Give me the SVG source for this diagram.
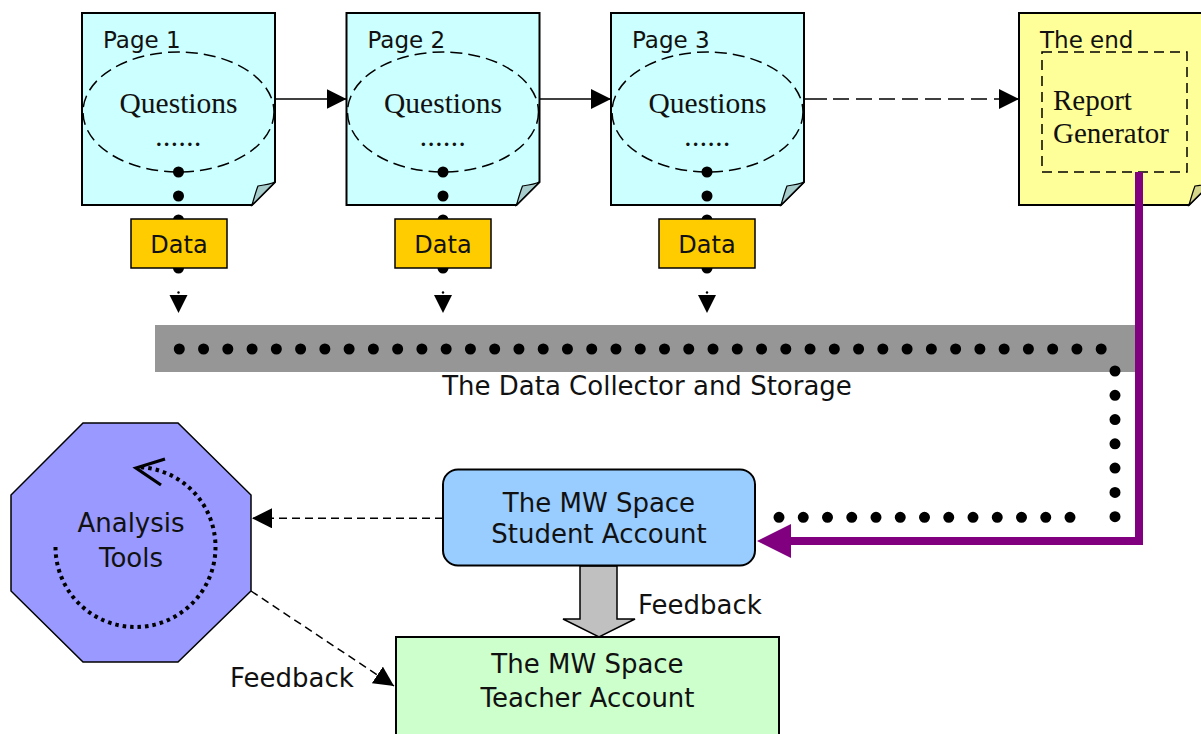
<svg xmlns="http://www.w3.org/2000/svg" width="1201" height="734" viewBox="0 0 1201 734">
<style>
.page{fill:#ccffff;stroke:#000;stroke-width:2}
.endpage{fill:#ffff99;stroke:#000;stroke-width:2}
.fold{fill:#a6cccc;stroke:#000;stroke-width:1.2}
.foldy{fill:#d6d68a;stroke:#000;stroke-width:1.2}
.ell{fill:none;stroke:#000;stroke-width:1.5;stroke-dasharray:12 6}
.dbox{fill:#ffcc00;stroke:#000;stroke-width:1.5}
.sans{font-family:"DejaVu Sans","Liberation Sans",sans-serif;fill:#111}
.serif{font-family:"Liberation Serif","DejaVu Serif",serif;fill:#111}
.lbl{font-family:"DejaVu Sans","Liberation Sans",sans-serif;font-size:26px;fill:#111}
.dots{fill:none;stroke:#000;stroke-width:11;stroke-linecap:round}
.solid{fill:none;stroke:#000;stroke-width:1.5}
.dash{fill:none;stroke:#000;stroke-width:1.5;stroke-dasharray:8 5}
</style>
<defs>
<marker id="ah" viewBox="0 0 20 20" refX="20" refY="10" markerWidth="20" markerHeight="20" markerUnits="userSpaceOnUse" orient="auto">
<path d="M0,0 L20,10 L0,20 Z" fill="#000"/>
</marker>
</defs>

<!-- Pages -->
<g id="page1" transform="translate(82,13)">
<path class="page" d="M0,0 H193 V169 L170,192 H0 Z"/>
<path class="fold" d="M170,192 C172,185 174,178 176,173 C183,172 189,171 193,169 Z"/>
<text class="sans" x="21" y="35" font-size="23">Page 1</text>
<ellipse class="ell" cx="96.5" cy="99" rx="95.5" ry="60"/>
<text class="serif" x="96.5" y="100" font-size="29.5" text-anchor="middle">Questions</text>
<text class="serif" x="96.5" y="133" font-size="29" text-anchor="middle" letter-spacing="0.5">......</text>
</g>
<g id="page2" transform="translate(346.5,13)">
<path class="page" d="M0,0 H193 V169 L170,192 H0 Z"/>
<path class="fold" d="M170,192 C172,185 174,178 176,173 C183,172 189,171 193,169 Z"/>
<text class="sans" x="21" y="35" font-size="23">Page 2</text>
<ellipse class="ell" cx="96.5" cy="99" rx="95.5" ry="60"/>
<text class="serif" x="96.5" y="100" font-size="29.5" text-anchor="middle">Questions</text>
<text class="serif" x="96.5" y="133" font-size="29" text-anchor="middle" letter-spacing="0.5">......</text>
</g>
<g id="page3" transform="translate(611,13)">
<path class="page" d="M0,0 H193 V169 L170,192 H0 Z"/>
<path class="fold" d="M170,192 C172,185 174,178 176,173 C183,172 189,171 193,169 Z"/>
<text class="sans" x="21" y="35" font-size="23">Page 3</text>
<ellipse class="ell" cx="96.5" cy="99" rx="95.5" ry="60"/>
<text class="serif" x="96.5" y="100" font-size="29.5" text-anchor="middle">Questions</text>
<text class="serif" x="96.5" y="133" font-size="29" text-anchor="middle" letter-spacing="0.5">......</text>
</g>
<g id="theend" transform="translate(1019,13)">
<path class="endpage" d="M0,0 H193 V169 L170,192 H0 Z"/>
<path class="foldy" d="M170,192 C172,185 174,178 176,173 C183,172 189,171 193,169 Z"/>
<text class="sans" x="21" y="35" font-size="23">The end</text>
<rect x="23" y="39" width="145" height="120" fill="none" stroke="#000" stroke-width="1.5" stroke-dasharray="10 6"/>
<text class="serif" x="34" y="97" font-size="29">Report</text>
<text class="serif" x="34" y="130" font-size="29">Generator</text>
</g>

<!-- Collector bar -->
<g id="collector">
<rect x="155" y="325" width="980" height="47" fill="#969696"/>
<text class="lbl" x="647" y="395" text-anchor="middle">The Data Collector and Storage</text>
</g>

<!-- Connectors -->
<g id="connectors">
<line class="solid" x1="274" y1="99" x2="346.5" y2="99" marker-end="url(#ah)"/>
<line class="solid" x1="539" y1="99" x2="611" y2="99" marker-end="url(#ah)"/>
<line class="solid" x1="803" y1="99" x2="827" y2="99"/>
<line x1="833" y1="99" x2="1019" y2="99" stroke="#000" stroke-width="1.5" stroke-dasharray="16 7" marker-end="url(#ah)"/>

<line class="dots" x1="178.5" y1="172" x2="178.5" y2="268.5" stroke-dasharray="0 24"/>
<circle cx="178.5" cy="292.5" r="1.2"/>
<polygon points="169.5,295 187.5,295 178.5,313"/>
<line class="dots" x1="443" y1="172" x2="443" y2="268.5" stroke-dasharray="0 24"/>
<circle cx="443" cy="292.5" r="1.2"/>
<polygon points="434,295 452,295 443,313"/>
<line class="dots" x1="707" y1="172" x2="707" y2="268.5" stroke-dasharray="0 24"/>
<circle cx="707" cy="292.5" r="1.2"/>
<polygon points="698,295 716,295 707,313"/>

<line class="dots" x1="179.3" y1="349" x2="1101.6" y2="349" stroke-dasharray="0 24.26"/>
<line class="dots" x1="1115" y1="371" x2="1115" y2="517.2" stroke-dasharray="0 24.28"/>
<line class="dots" x1="1070" y1="517.3" x2="778.5" y2="517.3" stroke-dasharray="0 24.25"/>

<polyline points="1139,172 1139,541 790,541" fill="none" stroke="#800080" stroke-width="8" stroke-linejoin="miter"/>
<polygon points="791,524 757,541 791,558" fill="#800080"/>

<line class="dash" x1="443" y1="518.3" x2="252" y2="518.3" marker-end="url(#ah)"/>
<line class="dash" x1="251" y1="591" x2="394" y2="686" marker-end="url(#ah)"/>
<polygon points="580,566 617,566 617,619 635,619 599,637 563,619 580,619" fill="#c0c0c0" stroke="#000" stroke-width="1.5"/>
<text class="lbl" x="638" y="614" font-size="27">Feedback</text>
<text class="lbl" x="230" y="687" font-size="27">Feedback</text>
</g>

<!-- Data boxes -->
<g id="data1">
<rect class="dbox" x="131" y="219" width="96" height="49"/>
<text class="sans" x="179" y="253" font-size="24" text-anchor="middle">Data</text>
</g>
<g id="data2">
<rect class="dbox" x="395" y="219" width="96" height="49"/>
<text class="sans" x="443" y="253" font-size="24" text-anchor="middle">Data</text>
</g>
<g id="data3">
<rect class="dbox" x="659" y="219" width="96" height="49"/>
<text class="sans" x="707" y="253" font-size="24" text-anchor="middle">Data</text>
</g>

<!-- Student account -->
<g id="student">
<rect x="443" y="469.5" width="312" height="96" rx="15" fill="#99ccff" stroke="#000" stroke-width="2"/>
<text class="lbl" x="599" y="512" text-anchor="middle">The MW Space</text>
<text class="lbl" x="599" y="543" text-anchor="middle">Student Account</text>
</g>

<!-- Teacher account -->
<g id="teacher">
<rect x="396" y="637" width="383" height="120" fill="#ccffcc" stroke="#000" stroke-width="2"/>
<text class="lbl" x="587.5" y="673" text-anchor="middle">The MW Space</text>
<text class="lbl" x="587.5" y="707" text-anchor="middle">Teacher Account</text>
</g>

<!-- Analysis tools -->
<g id="analysis">
<polygon points="83,423 178,423 251,495 251,591 178,662 83,662 11,591 11,495" fill="#9999ff" stroke="#000" stroke-width="1.5"/>
<path d="M55.5,547 A80,80 0 1 0 140,467.1" fill="none" stroke="#000" stroke-width="4" stroke-dasharray="3.5 4"/>
<polyline points="165,459 136,468 161,485" fill="none" stroke="#000" stroke-width="3.2"/>
<text class="lbl" x="131" y="532" text-anchor="middle">Analysis</text>
<text class="lbl" x="131" y="567" text-anchor="middle">Tools</text>
</g>
</svg>
